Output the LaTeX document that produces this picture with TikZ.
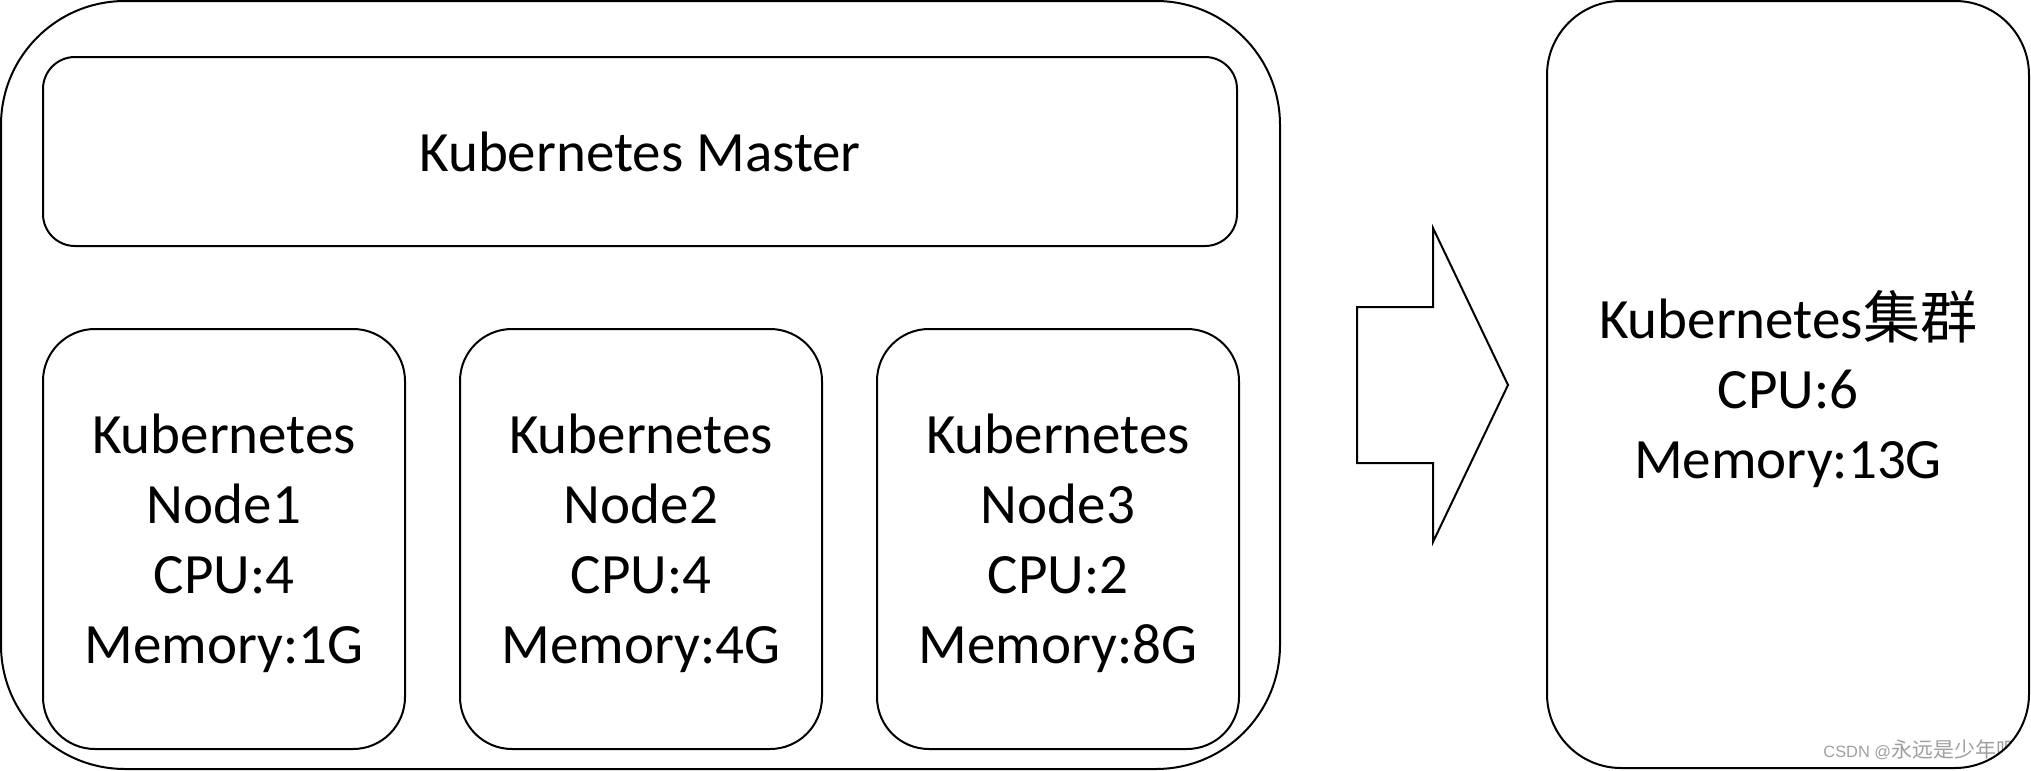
\documentclass[tikz,border=0pt]{standalone}
\usepackage{fontspec}
\setmainfont{Carlito}
\newfontfamily\cjk{Noto Sans CJK SC}
\newfontfamily\wmfont{Liberation Sans}
\usetikzlibrary{positioning}
\tikzset{
  every node/.style={font=\fontsize{28.5}{35}\selectfont},
  % boxes
  box/.style={draw, line width=1pt, align=center, inner sep=0pt, text depth=0pt},
  outer/.style ={box, minimum width=639.5pt, minimum height=384pt, rounded corners=62pt},
  master/.style={box, minimum width=597pt, minimum height=94.5pt, rounded corners=16pt},
  knode/.style ={box, minimum width=181pt, minimum height=210pt, rounded corners=26pt},
  result/.style={box, minimum width=241pt, minimum height=383.5pt, rounded corners=37pt},
  wmark/.style ={font=\wmfont\fontsize{8.2}{10}\selectfont, text=gray!75, anchor=base west, inner sep=0pt},
}

\begin{document}
\begin{tikzpicture}[x=0.5pt, y=-0.5pt]
\useasboundingbox (0,0) rectangle (2031,771);

\node[outer]  (cluster) at (640.5,385) {};
\node[master] (master)  at (640,151.5) {Kubernetes Master};

\node[knode] (node1) at (224,539) {Kubernetes\\Node1\\CPU:4\\Memory:1G};
\node[knode, right=26.5pt of node1] (node2) {Kubernetes\\Node2\\CPU:4\\Memory:4G};
\node[knode, right=26.5pt of node2] (node3) {Kubernetes\\Node3\\CPU:2\\Memory:8G};

% big arrow
\draw[line width=1pt, line join=miter]
  (1357,307) -- (1433,307) -- (1433,228) -- (1508,385)
  -- (1433,542) -- (1433,463) -- (1357,463) -- cycle;

% watermark, cut by the right box
\begin{scope}
  \clip[rounded corners=37pt] (1547,1) rectangle (2029,768);
  \node[wmark] (wm) at (1823,757) {CSDN @{\cjk\fontsize{10.5}{12}\selectfont 永远是少年吧}};
\end{scope}

\node[result] (total) at (1788,384.5) {Kubernetes{\cjk 集群}\\CPU:6\\Memory:13G};

\end{tikzpicture}
\end{document}
